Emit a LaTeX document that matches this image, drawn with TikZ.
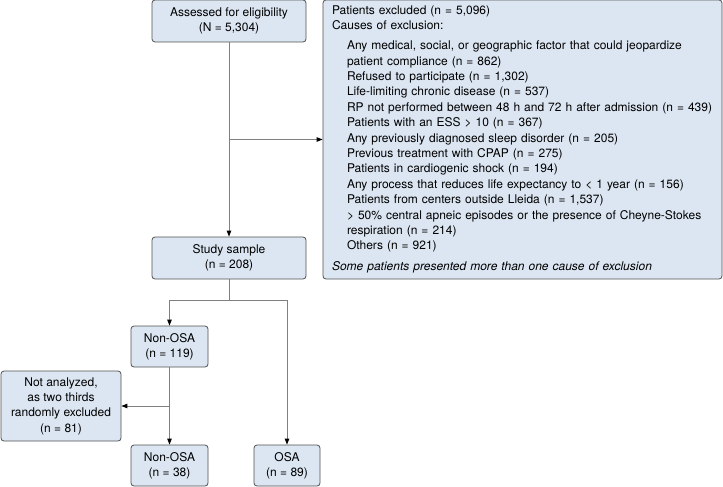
\documentclass[tikz,border=0pt]{standalone}
\usepackage{fontspec}
\setmainfont{TeX Gyre Heros}
\usetikzlibrary{arrows.meta}
\definecolor{boxfill}{HTML}{DCE6F2}
\definecolor{boxline}{HTML}{505050}
\definecolor{flowline}{HTML}{808080}
\tikzset{
  box/.style={draw=boxline, fill=boxfill, rounded corners=3pt, line width=0.8pt, align=center, inner sep=0pt},
  flow/.style={draw=flowline, line width=1pt},
  tip/.style={-{Triangle[length=6pt,width=4.5pt,color=black]}}
}
\begin{document}
\begin{tikzpicture}[x=1pt,y=-1pt,font=\fontsize{12}{15.4}\selectfont]
  \useasboundingbox (0,0) rectangle (723,487);
  \draw
    (229,21) node[box, minimum width=154pt, minimum height=42pt] (assess) {Assessed for eligibility\\(N = 5,304)}
    (522.5,139.5) node[box, minimum height=279pt, text width=381pt, inner xsep=9pt, align=left] (excl) {Patients excluded (n = 5,096)\\
      Causes of exclusion:\\[4.6pt]
      \hspace*{15pt}Any medical, social, or geographic factor that could jeopardize\\
      \hspace*{15pt}patient compliance (n = 862)\\
      \hspace*{15pt}Refused to participate (n = 1,302)\\
      \hspace*{15pt}Life-limiting chronic disease (n = 537)\\
      \hspace*{15pt}\mbox{RP not performed between 48 h and 72 h after admission (n = 439)}\\
      \hspace*{15pt}Patients with an ESS > 10 (n = 367)\\
      \hspace*{15pt}Any previously diagnosed sleep disorder (n = 205)\\
      \hspace*{15pt}Previous treatment with CPAP (n = 275)\\
      \hspace*{15pt}Patients in cardiogenic shock (n = 194)\\
      \hspace*{15pt}Any process that reduces life expectancy to < 1 year (n = 156)\\
      \hspace*{15pt}Patients from centers outside Lleida (n = 1,537)\\
      \hspace*{15pt}> 50\% central apneic episodes or the presence of Cheyne-Stokes\\
      \hspace*{15pt}respiration (n = 214)\\
      \hspace*{15pt}Others (n = 921)\\[5.6pt]
      \textit{Some patients presented more than one cause of exclusion}}
    (229,258) node[box, minimum width=154pt, minimum height=42pt] (study) {Study sample\\(n = 208)}
    (169.5,346.5) node[box, minimum width=77pt, minimum height=41pt] (nonosa1) {Non-OSA\\(n = 119)}
    (61,406) node[box, minimum width=120pt, minimum height=70pt] (notan) {Not analyzed,\\as two thirds\\randomly excluded\\(n = 81)}
    (169.5,465.5) node[box, minimum width=77pt, minimum height=41pt] (nonosa2) {Non-OSA\\(n = 38)}
    (287,465.5) node[box, minimum width=66pt, minimum height=41pt] (osa) {OSA\\(n = 89)};
  \coordinate (cut1) at (229,139.5);
  \coordinate (split) at (229,300);
  \coordinate (cut2) at (169.5,406);
  \begin{scope}[flow]
    \draw[tip] (assess) to (study);
    \draw[tip] (cut1) to (excl);
    \draw (study) to (split);
    \draw[tip] (split) -| (nonosa1);
    \draw[tip] (split) -| (osa);
    \draw[tip] (nonosa1) to (nonosa2);
    \draw[tip] (cut2) to (notan);
  \end{scope}
\end{tikzpicture}
\end{document}
